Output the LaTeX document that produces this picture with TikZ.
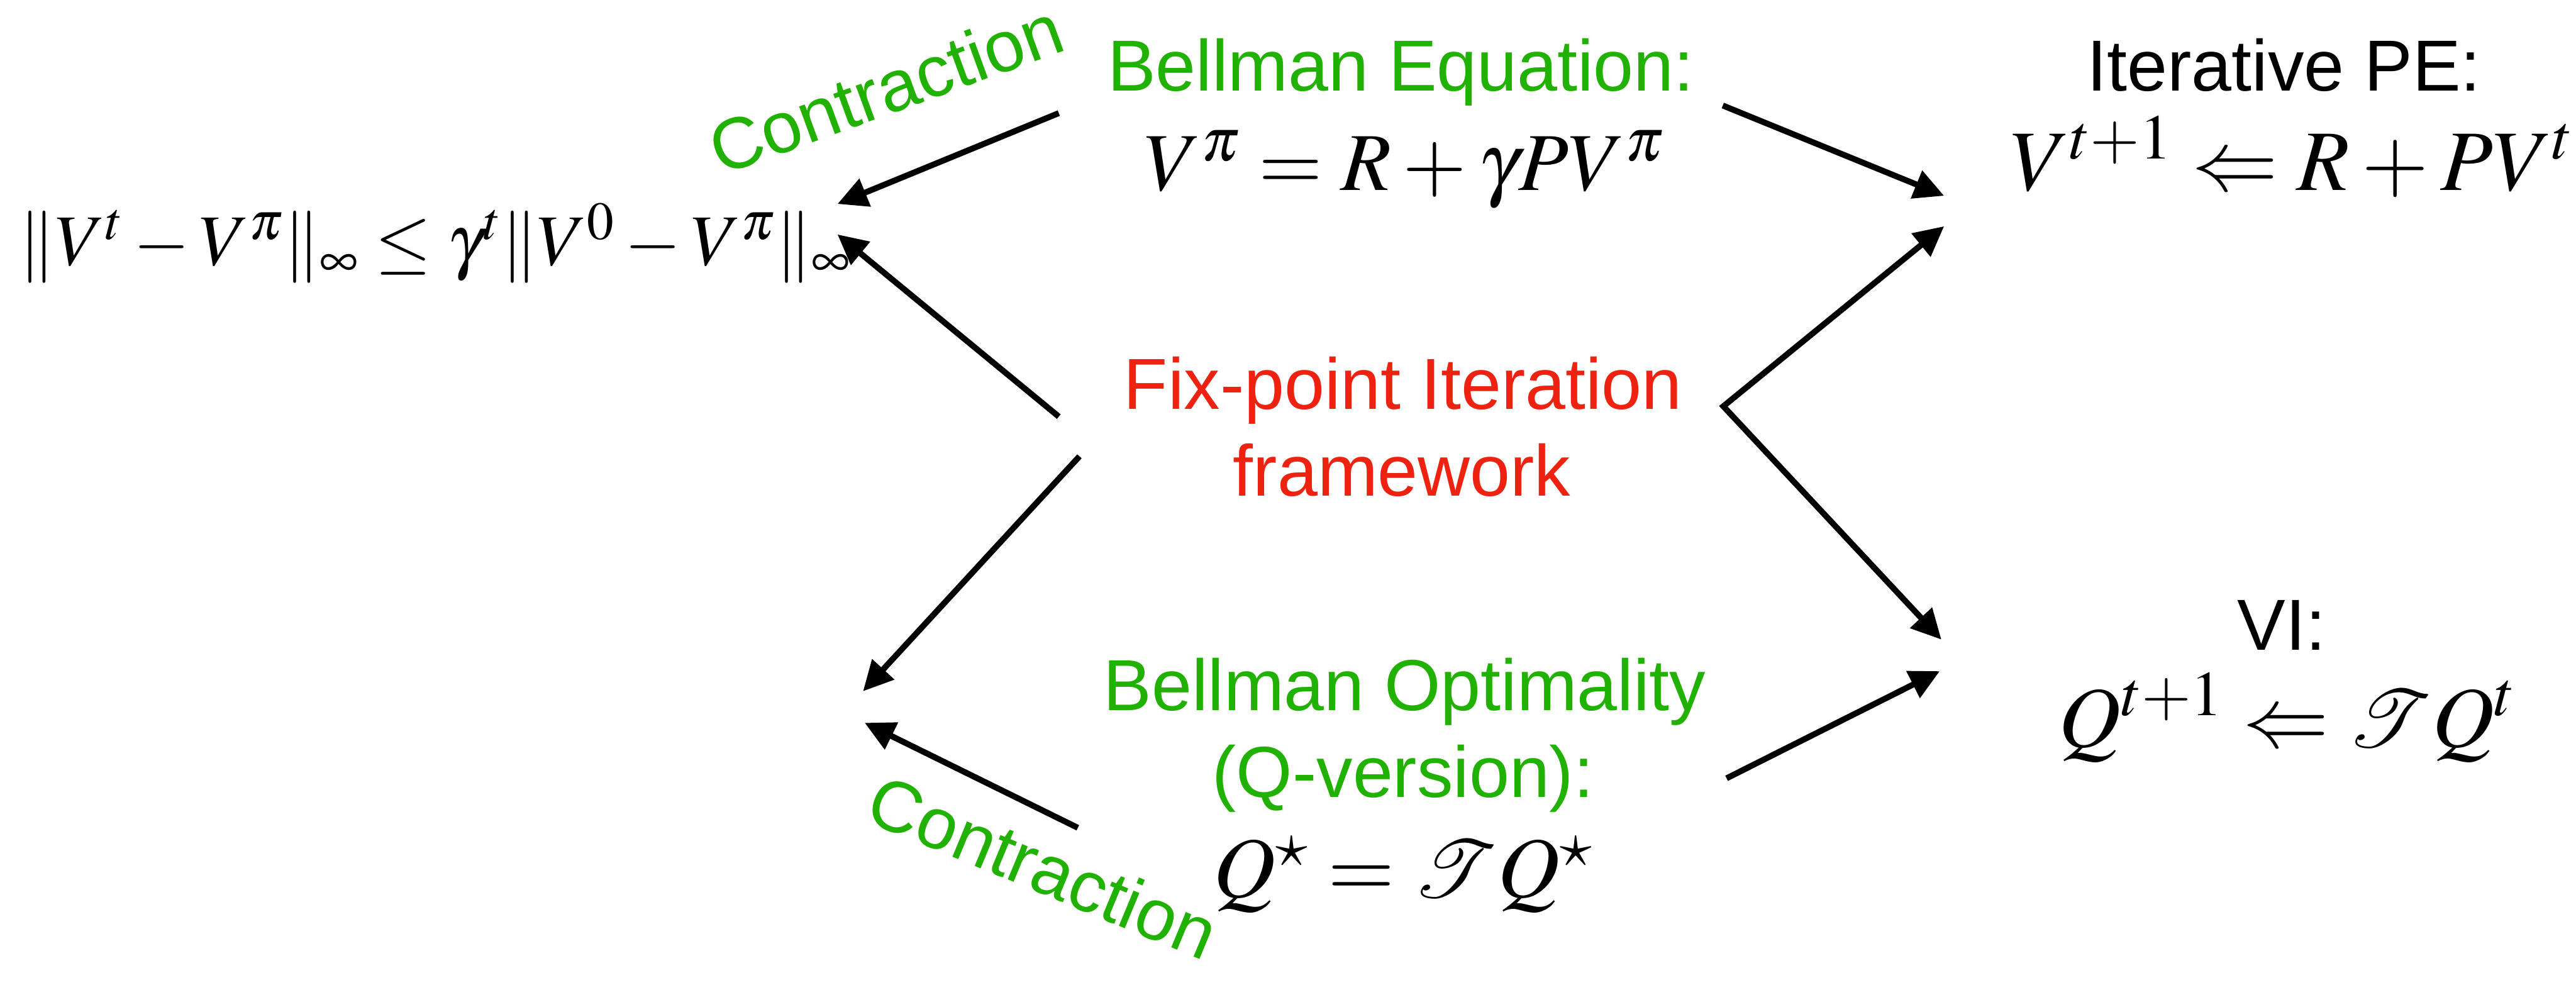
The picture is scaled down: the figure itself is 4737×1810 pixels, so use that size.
\documentclass[tikz,border=0pt]{standalone}
\usepackage{mathptmx}
\usepackage{mathrsfs}
\usepackage[no-math]{fontspec}
\setmainfont{Liberation Sans}
\usetikzlibrary{arrows.meta}
\definecolor{cgreen}{RGB}{33,177,0}
\definecolor{cred}{RGB}{238,34,17}
\newcommand{\opT}{\mathord{\scalebox{1.7}{$\mathscr{T}$}}}
\tikzset{
  txt/.style={inner sep=0pt, anchor=base, font=\fontsize{37.8pt}{45pt}\selectfont},
  bigm/.style={inner sep=0pt, anchor=base, font=\fontsize{45pt}{54pt}\selectfont},
  gtxt/.style={txt, text=cgreen},
  rtxt/.style={txt, text=cred},
  conn/.style={line width=3.1pt, line join=miter, -{Triangle[length=0.55cm,width=0.53cm]}},
}
\begin{document}
\begin{tikzpicture}[x=0.01cm, y=-0.01cm]
\useasboundingbox (0,0) rectangle (4737,1810);
% texts
\node[gtxt] (be1) at (2576,167) {Bellman Equation:};
\node[bigm, font=\fontsize{43pt}{52pt}\selectfont] (be2) at (2583,350) {$V^{\pi} = R + \gamma P V^{\pi}$};
\node[txt]  (pe1) at (4200,167) {Iterative PE:};
\node[bigm] (pe2) at (4215,350) {$V^{t+1} \Leftarrow R + P V^{t}$};
\node[txt]  (bound) at (800,488) {$\|V^{t} - V^{\pi}\|_{\infty} \leq \gamma^{t}\|V^{0} - V^{\pi}\|_{\infty}$};
\node[rtxt] (fp1) at (2580,752) {Fix-point Iteration};
\node[rtxt] (fp2) at (2578,912) {framework};
\node[gtxt] (bo1) at (2583,1306) {Bellman Optimality};
\node[gtxt] (bo2) at (2580,1466) {(Q-version):};
\node[bigm] (bo3) at (2580,1650) {$Q^{\star} = \opT Q^{\star}$};
\node[txt]  (vi1) at (4196,1195) {VI:};
\node[bigm] (vi2) at (4206,1373) {$Q^{t+1} \Leftarrow \opT Q^{t}$};
\node[gtxt, rotate=20] (c1) at (1645,207) {Contraction};
\node[gtxt, rotate=-22.5] (c2) at (1900,1637) {Contraction};
% connector end points
\coordinate (beL) at (1947,208);
\coordinate (boundA) at (1540,375);
\coordinate (fpL) at (1947,766);
\coordinate (boundB) at (1540,431);
\coordinate (fpLL) at (1985,839);
\coordinate (blankA) at (1587,1271);
\coordinate (boL) at (1982,1522);
\coordinate (blankB) at (1590,1329);
\coordinate (beR) at (3168,194);
\coordinate (peA) at (3575,360);
\coordinate (fork) at (3169,747);
\coordinate (peB) at (3575,416);
\coordinate (viA) at (3570,1176);
\coordinate (boR) at (3175,1431);
\coordinate (viB) at (3567,1234);
% connectors
\draw[conn] (beL) -- (boundA);
\draw[conn] (fpL) -- (boundB);
\draw[conn] (fpLL) -- (blankA);
\draw[conn] (boL) -- (blankB);
\draw[conn] (beR) -- (peA);
\draw[line width=3.1pt, line join=miter, {Triangle[length=0.55cm,width=0.53cm]}-{Triangle[length=0.55cm,width=0.53cm]}] (peB) -- (fork) -- (viA);
\draw[conn] (boR) -- (viB);
\end{tikzpicture}
\end{document}
